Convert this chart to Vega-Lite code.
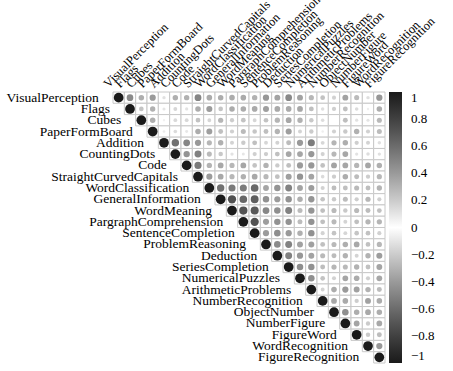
{
  "$schema": "https://vega.github.io/schema/vega-lite/v6.json",
  "width": 272,
  "height": 271,
  "autosize": {"type": "none"},
  "padding": {"left": 113, "top": 92, "right": 68, "bottom": 8},
  "background": "white",
  "config": {"view": {"stroke": null}, "font": "Times New Roman, Liberation Serif, serif"},
  "data": {"values": [
{"row":"VisualPerception","col":"VisualPerception","r":1},
{"row":"VisualPerception","col":"Flags","r":0.468},
{"row":"VisualPerception","col":"Cubes","r":0.318},
{"row":"VisualPerception","col":"PaperFormBoard","r":0.403},
{"row":"VisualPerception","col":"Addition","r":0.116},
{"row":"VisualPerception","col":"CountingDots","r":0.314},
{"row":"VisualPerception","col":"Code","r":0.308},
{"row":"VisualPerception","col":"StraightCurvedCapitals","r":0.489},
{"row":"VisualPerception","col":"WordClassification","r":0.332},
{"row":"VisualPerception","col":"GeneralInformation","r":0.321},
{"row":"VisualPerception","col":"WordMeaning","r":0.326},
{"row":"VisualPerception","col":"PargraphComprehension","r":0.335},
{"row":"VisualPerception","col":"SentenceCompletion","r":0.304},
{"row":"VisualPerception","col":"ProblemReasoning","r":0.413},
{"row":"VisualPerception","col":"Deduction","r":0.365},
{"row":"VisualPerception","col":"SeriesCompletion","r":0.474},
{"row":"VisualPerception","col":"NumericalPuzzles","r":0.369},
{"row":"VisualPerception","col":"ArithmeticProblems","r":0.282},
{"row":"VisualPerception","col":"NumberRecognition","r":0.238},
{"row":"VisualPerception","col":"ObjectNumber","r":0.176},
{"row":"VisualPerception","col":"NumberFigure","r":0.368},
{"row":"VisualPerception","col":"FigureWord","r":0.270},
{"row":"VisualPerception","col":"WordRecognition","r":0.125},
{"row":"VisualPerception","col":"FigureRecognition","r":0.414},
{"row":"Flags","col":"Flags","r":1},
{"row":"Flags","col":"Cubes","r":0.230},
{"row":"Flags","col":"PaperFormBoard","r":0.305},
{"row":"Flags","col":"Addition","r":0.099},
{"row":"Flags","col":"CountingDots","r":0.160},
{"row":"Flags","col":"Code","r":0.110},
{"row":"Flags","col":"StraightCurvedCapitals","r":0.327},
{"row":"Flags","col":"WordClassification","r":0.391},
{"row":"Flags","col":"GeneralInformation","r":0.227},
{"row":"Flags","col":"WordMeaning","r":0.325},
{"row":"Flags","col":"PargraphComprehension","r":0.327},
{"row":"Flags","col":"SentenceCompletion","r":0.335},
{"row":"Flags","col":"ProblemReasoning","r":0.380},
{"row":"Flags","col":"Deduction","r":0.339},
{"row":"Flags","col":"SeriesCompletion","r":0.335},
{"row":"Flags","col":"NumericalPuzzles","r":0.349},
{"row":"Flags","col":"ArithmeticProblems","r":0.248},
{"row":"Flags","col":"NumberRecognition","r":0.127},
{"row":"Flags","col":"ObjectNumber","r":0.187},
{"row":"Flags","col":"NumberFigure","r":0.251},
{"row":"Flags","col":"FigureWord","r":0.137},
{"row":"Flags","col":"WordRecognition","r":0.066},
{"row":"Flags","col":"FigureRecognition","r":0.322},
{"row":"Cubes","col":"Cubes","r":1},
{"row":"Cubes","col":"PaperFormBoard","r":0.317},
{"row":"Cubes","col":"Addition","r":0.057},
{"row":"Cubes","col":"CountingDots","r":0.145},
{"row":"Cubes","col":"Code","r":0.150},
{"row":"Cubes","col":"StraightCurvedCapitals","r":0.239},
{"row":"Cubes","col":"WordClassification","r":0.157},
{"row":"Cubes","col":"GeneralInformation","r":0.285},
{"row":"Cubes","col":"WordMeaning","r":0.195},
{"row":"Cubes","col":"PargraphComprehension","r":0.234},
{"row":"Cubes","col":"SentenceCompletion","r":0.157},
{"row":"Cubes","col":"ProblemReasoning","r":0.232},
{"row":"Cubes","col":"Deduction","r":0.292},
{"row":"Cubes","col":"SeriesCompletion","r":0.348},
{"row":"Cubes","col":"NumericalPuzzles","r":0.306},
{"row":"Cubes","col":"ArithmeticProblems","r":0.211},
{"row":"Cubes","col":"NumberRecognition","r":0.131},
{"row":"Cubes","col":"ObjectNumber","r":0.005},
{"row":"Cubes","col":"NumberFigure","r":0.255},
{"row":"Cubes","col":"FigureWord","r":0.112},
{"row":"Cubes","col":"WordRecognition","r":0.103},
{"row":"Cubes","col":"FigureRecognition","r":0.272},
{"row":"PaperFormBoard","col":"PaperFormBoard","r":1},
{"row":"PaperFormBoard","col":"Addition","r":-0.075},
{"row":"PaperFormBoard","col":"CountingDots","r":0.140},
{"row":"PaperFormBoard","col":"Code","r":0.091},
{"row":"PaperFormBoard","col":"StraightCurvedCapitals","r":0.321},
{"row":"PaperFormBoard","col":"WordClassification","r":0.382},
{"row":"PaperFormBoard","col":"GeneralInformation","r":0.247},
{"row":"PaperFormBoard","col":"WordMeaning","r":0.184},
{"row":"PaperFormBoard","col":"PargraphComprehension","r":0.268},
{"row":"PaperFormBoard","col":"SentenceCompletion","r":0.223},
{"row":"PaperFormBoard","col":"ProblemReasoning","r":0.250},
{"row":"PaperFormBoard","col":"Deduction","r":0.297},
{"row":"PaperFormBoard","col":"SeriesCompletion","r":0.383},
{"row":"PaperFormBoard","col":"NumericalPuzzles","r":0.165},
{"row":"PaperFormBoard","col":"ArithmeticProblems","r":0.203},
{"row":"PaperFormBoard","col":"NumberRecognition","r":0.065},
{"row":"PaperFormBoard","col":"ObjectNumber","r":0.177},
{"row":"PaperFormBoard","col":"NumberFigure","r":0.211},
{"row":"PaperFormBoard","col":"FigureWord","r":0.312},
{"row":"PaperFormBoard","col":"WordRecognition","r":0.177},
{"row":"PaperFormBoard","col":"FigureRecognition","r":0.263},
{"row":"Addition","col":"Addition","r":1},
{"row":"Addition","col":"CountingDots","r":0.585},
{"row":"Addition","col":"Code","r":0.484},
{"row":"Addition","col":"StraightCurvedCapitals","r":0.408},
{"row":"Addition","col":"WordClassification","r":0.285},
{"row":"Addition","col":"GeneralInformation","r":0.311},
{"row":"Addition","col":"WordMeaning","r":0.170},
{"row":"Addition","col":"PargraphComprehension","r":0.203},
{"row":"Addition","col":"SentenceCompletion","r":0.246},
{"row":"Addition","col":"ProblemReasoning","r":0.160},
{"row":"Addition","col":"Deduction","r":0.173},
{"row":"Addition","col":"SeriesCompletion","r":0.262},
{"row":"Addition","col":"NumericalPuzzles","r":0.405},
{"row":"Addition","col":"ArithmeticProblems","r":0.531},
{"row":"Addition","col":"NumberRecognition","r":0.154},
{"row":"Addition","col":"ObjectNumber","r":0.289},
{"row":"Addition","col":"NumberFigure","r":0.317},
{"row":"Addition","col":"FigureWord","r":0.190},
{"row":"Addition","col":"WordRecognition","r":0.172},
{"row":"Addition","col":"FigureRecognition","r":0.124},
{"row":"CountingDots","col":"CountingDots","r":1},
{"row":"CountingDots","col":"Code","r":0.428},
{"row":"CountingDots","col":"StraightCurvedCapitals","r":0.512},
{"row":"CountingDots","col":"WordClassification","r":0.271},
{"row":"CountingDots","col":"GeneralInformation","r":0.215},
{"row":"CountingDots","col":"WordMeaning","r":0.113},
{"row":"CountingDots","col":"PargraphComprehension","r":0.095},
{"row":"CountingDots","col":"SentenceCompletion","r":0.181},
{"row":"CountingDots","col":"ProblemReasoning","r":0.193},
{"row":"CountingDots","col":"Deduction","r":0.246},
{"row":"CountingDots","col":"SeriesCompletion","r":0.350},
{"row":"CountingDots","col":"NumericalPuzzles","r":0.355},
{"row":"CountingDots","col":"ArithmeticProblems","r":0.414},
{"row":"CountingDots","col":"NumberRecognition","r":0.173},
{"row":"CountingDots","col":"ObjectNumber","r":0.278},
{"row":"CountingDots","col":"NumberFigure","r":0.349},
{"row":"CountingDots","col":"FigureWord","r":0.110},
{"row":"CountingDots","col":"WordRecognition","r":0.131},
{"row":"CountingDots","col":"FigureRecognition","r":0.119},
{"row":"Code","col":"Code","r":1},
{"row":"Code","col":"StraightCurvedCapitals","r":0.535},
{"row":"Code","col":"WordClassification","r":0.300},
{"row":"Code","col":"GeneralInformation","r":0.344},
{"row":"Code","col":"WordMeaning","r":0.280},
{"row":"Code","col":"PargraphComprehension","r":0.353},
{"row":"Code","col":"SentenceCompletion","r":0.232},
{"row":"Code","col":"ProblemReasoning","r":0.304},
{"row":"Code","col":"Deduction","r":0.202},
{"row":"Code","col":"SeriesCompletion","r":0.251},
{"row":"Code","col":"NumericalPuzzles","r":0.399},
{"row":"Code","col":"ArithmeticProblems","r":0.412},
{"row":"Code","col":"NumberRecognition","r":0.240},
{"row":"Code","col":"ObjectNumber","r":0.362},
{"row":"Code","col":"NumberFigure","r":0.350},
{"row":"Code","col":"FigureWord","r":0.290},
{"row":"Code","col":"WordRecognition","r":0.350},
{"row":"Code","col":"FigureRecognition","r":0.314},
{"row":"StraightCurvedCapitals","col":"StraightCurvedCapitals","r":1},
{"row":"StraightCurvedCapitals","col":"WordClassification","r":0.395},
{"row":"StraightCurvedCapitals","col":"GeneralInformation","r":0.344},
{"row":"StraightCurvedCapitals","col":"WordMeaning","r":0.280},
{"row":"StraightCurvedCapitals","col":"PargraphComprehension","r":0.309},
{"row":"StraightCurvedCapitals","col":"SentenceCompletion","r":0.345},
{"row":"StraightCurvedCapitals","col":"ProblemReasoning","r":0.279},
{"row":"StraightCurvedCapitals","col":"Deduction","r":0.241},
{"row":"StraightCurvedCapitals","col":"SeriesCompletion","r":0.382},
{"row":"StraightCurvedCapitals","col":"NumericalPuzzles","r":0.425},
{"row":"StraightCurvedCapitals","col":"ArithmeticProblems","r":0.358},
{"row":"StraightCurvedCapitals","col":"NumberRecognition","r":0.139},
{"row":"StraightCurvedCapitals","col":"ObjectNumber","r":0.194},
{"row":"StraightCurvedCapitals","col":"NumberFigure","r":0.323},
{"row":"StraightCurvedCapitals","col":"FigureWord","r":0.263},
{"row":"StraightCurvedCapitals","col":"WordRecognition","r":0.195},
{"row":"StraightCurvedCapitals","col":"FigureRecognition","r":0.281},
{"row":"WordClassification","col":"WordClassification","r":1},
{"row":"WordClassification","col":"GeneralInformation","r":0.578},
{"row":"WordClassification","col":"WordMeaning","r":0.532},
{"row":"WordClassification","col":"PargraphComprehension","r":0.527},
{"row":"WordClassification","col":"SentenceCompletion","r":0.619},
{"row":"WordClassification","col":"ProblemReasoning","r":0.357},
{"row":"WordClassification","col":"Deduction","r":0.427},
{"row":"WordClassification","col":"SeriesCompletion","r":0.501},
{"row":"WordClassification","col":"NumericalPuzzles","r":0.362},
{"row":"WordClassification","col":"ArithmeticProblems","r":0.388},
{"row":"WordClassification","col":"NumberRecognition","r":0.175},
{"row":"WordClassification","col":"ObjectNumber","r":0.255},
{"row":"WordClassification","col":"NumberFigure","r":0.250},
{"row":"WordClassification","col":"FigureWord","r":0.274},
{"row":"WordClassification","col":"WordRecognition","r":0.252},
{"row":"WordClassification","col":"FigureRecognition","r":0.296},
{"row":"GeneralInformation","col":"GeneralInformation","r":1},
{"row":"GeneralInformation","col":"WordMeaning","r":0.723},
{"row":"GeneralInformation","col":"PargraphComprehension","r":0.622},
{"row":"GeneralInformation","col":"SentenceCompletion","r":0.656},
{"row":"GeneralInformation","col":"ProblemReasoning","r":0.441},
{"row":"GeneralInformation","col":"Deduction","r":0.398},
{"row":"GeneralInformation","col":"SeriesCompletion","r":0.435},
{"row":"GeneralInformation","col":"NumericalPuzzles","r":0.318},
{"row":"GeneralInformation","col":"ArithmeticProblems","r":0.420},
{"row":"GeneralInformation","col":"NumberRecognition","r":0.229},
{"row":"GeneralInformation","col":"ObjectNumber","r":0.208},
{"row":"GeneralInformation","col":"NumberFigure","r":0.263},
{"row":"GeneralInformation","col":"FigureWord","r":0.190},
{"row":"GeneralInformation","col":"WordRecognition","r":0.280},
{"row":"GeneralInformation","col":"FigureRecognition","r":0.187},
{"row":"WordMeaning","col":"WordMeaning","r":1},
{"row":"WordMeaning","col":"PargraphComprehension","r":0.714},
{"row":"WordMeaning","col":"SentenceCompletion","r":0.685},
{"row":"WordMeaning","col":"ProblemReasoning","r":0.483},
{"row":"WordMeaning","col":"Deduction","r":0.446},
{"row":"WordMeaning","col":"SeriesCompletion","r":0.504},
{"row":"WordMeaning","col":"NumericalPuzzles","r":0.266},
{"row":"WordMeaning","col":"ArithmeticProblems","r":0.424},
{"row":"WordMeaning","col":"NumberRecognition","r":0.248},
{"row":"WordMeaning","col":"ObjectNumber","r":0.274},
{"row":"WordMeaning","col":"NumberFigure","r":0.208},
{"row":"WordMeaning","col":"FigureWord","r":0.274},
{"row":"WordMeaning","col":"WordRecognition","r":0.260},
{"row":"WordMeaning","col":"FigureRecognition","r":0.242},
{"row":"PargraphComprehension","col":"PargraphComprehension","r":1},
{"row":"PargraphComprehension","col":"SentenceCompletion","r":0.722},
{"row":"PargraphComprehension","col":"ProblemReasoning","r":0.386},
{"row":"PargraphComprehension","col":"Deduction","r":0.435},
{"row":"PargraphComprehension","col":"SeriesCompletion","r":0.431},
{"row":"PargraphComprehension","col":"NumericalPuzzles","r":0.263},
{"row":"PargraphComprehension","col":"ArithmeticProblems","r":0.433},
{"row":"PargraphComprehension","col":"NumberRecognition","r":0.251},
{"row":"PargraphComprehension","col":"ObjectNumber","r":0.273},
{"row":"PargraphComprehension","col":"NumberFigure","r":0.167},
{"row":"PargraphComprehension","col":"FigureWord","r":0.251},
{"row":"PargraphComprehension","col":"WordRecognition","r":0.292},
{"row":"PargraphComprehension","col":"FigureRecognition","r":0.291},
{"row":"SentenceCompletion","col":"SentenceCompletion","r":1},
{"row":"SentenceCompletion","col":"ProblemReasoning","r":0.396},
{"row":"SentenceCompletion","col":"Deduction","r":0.451},
{"row":"SentenceCompletion","col":"SeriesCompletion","r":0.405},
{"row":"SentenceCompletion","col":"NumericalPuzzles","r":0.314},
{"row":"SentenceCompletion","col":"ArithmeticProblems","r":0.437},
{"row":"SentenceCompletion","col":"NumberRecognition","r":0.172},
{"row":"SentenceCompletion","col":"ObjectNumber","r":0.228},
{"row":"SentenceCompletion","col":"NumberFigure","r":0.159},
{"row":"SentenceCompletion","col":"FigureWord","r":0.226},
{"row":"SentenceCompletion","col":"WordRecognition","r":0.236},
{"row":"SentenceCompletion","col":"FigureRecognition","r":0.180},
{"row":"ProblemReasoning","col":"ProblemReasoning","r":1},
{"row":"ProblemReasoning","col":"Deduction","r":0.463},
{"row":"ProblemReasoning","col":"SeriesCompletion","r":0.503},
{"row":"ProblemReasoning","col":"NumericalPuzzles","r":0.374},
{"row":"ProblemReasoning","col":"ArithmeticProblems","r":0.375},
{"row":"ProblemReasoning","col":"NumberRecognition","r":0.246},
{"row":"ProblemReasoning","col":"ObjectNumber","r":0.273},
{"row":"ProblemReasoning","col":"NumberFigure","r":0.317},
{"row":"ProblemReasoning","col":"FigureWord","r":0.342},
{"row":"ProblemReasoning","col":"WordRecognition","r":0.243},
{"row":"ProblemReasoning","col":"FigureRecognition","r":0.283},
{"row":"Deduction","col":"Deduction","r":1},
{"row":"Deduction","col":"SeriesCompletion","r":0.509},
{"row":"Deduction","col":"NumericalPuzzles","r":0.413},
{"row":"Deduction","col":"ArithmeticProblems","r":0.366},
{"row":"Deduction","col":"NumberRecognition","r":0.272},
{"row":"Deduction","col":"ObjectNumber","r":0.262},
{"row":"Deduction","col":"NumberFigure","r":0.301},
{"row":"Deduction","col":"FigureWord","r":0.167},
{"row":"Deduction","col":"WordRecognition","r":0.302},
{"row":"Deduction","col":"FigureRecognition","r":0.388},
{"row":"SeriesCompletion","col":"SeriesCompletion","r":1},
{"row":"SeriesCompletion","col":"NumericalPuzzles","r":0.451},
{"row":"SeriesCompletion","col":"ArithmeticProblems","r":0.434},
{"row":"SeriesCompletion","col":"NumberRecognition","r":0.256},
{"row":"SeriesCompletion","col":"ObjectNumber","r":0.287},
{"row":"SeriesCompletion","col":"NumberFigure","r":0.272},
{"row":"SeriesCompletion","col":"FigureWord","r":0.303},
{"row":"SeriesCompletion","col":"WordRecognition","r":0.242},
{"row":"SeriesCompletion","col":"FigureRecognition","r":0.360},
{"row":"NumericalPuzzles","col":"NumericalPuzzles","r":1},
{"row":"NumericalPuzzles","col":"ArithmeticProblems","r":0.448},
{"row":"NumericalPuzzles","col":"NumberRecognition","r":0.232},
{"row":"NumericalPuzzles","col":"ObjectNumber","r":0.173},
{"row":"NumericalPuzzles","col":"NumberFigure","r":0.357},
{"row":"NumericalPuzzles","col":"FigureWord","r":0.331},
{"row":"NumericalPuzzles","col":"WordRecognition","r":0.183},
{"row":"NumericalPuzzles","col":"FigureRecognition","r":0.348},
{"row":"ArithmeticProblems","col":"ArithmeticProblems","r":1},
{"row":"ArithmeticProblems","col":"NumberRecognition","r":0.165},
{"row":"ArithmeticProblems","col":"ObjectNumber","r":0.326},
{"row":"ArithmeticProblems","col":"NumberFigure","r":0.405},
{"row":"ArithmeticProblems","col":"FigureWord","r":0.374},
{"row":"ArithmeticProblems","col":"WordRecognition","r":0.304},
{"row":"ArithmeticProblems","col":"FigureRecognition","r":0.262},
{"row":"NumberRecognition","col":"NumberRecognition","r":1},
{"row":"NumberRecognition","col":"ObjectNumber","r":0.345},
{"row":"NumberRecognition","col":"NumberFigure","r":0.334},
{"row":"NumberRecognition","col":"FigureWord","r":0.192},
{"row":"NumberRecognition","col":"WordRecognition","r":0.370},
{"row":"NumberRecognition","col":"FigureRecognition","r":0.325},
{"row":"ObjectNumber","col":"ObjectNumber","r":1},
{"row":"ObjectNumber","col":"NumberFigure","r":0.448},
{"row":"ObjectNumber","col":"FigureWord","r":0.324},
{"row":"ObjectNumber","col":"WordRecognition","r":0.341},
{"row":"ObjectNumber","col":"FigureRecognition","r":0.324},
{"row":"NumberFigure","col":"NumberFigure","r":1},
{"row":"NumberFigure","col":"FigureWord","r":0.358},
{"row":"NumberFigure","col":"WordRecognition","r":0.201},
{"row":"NumberFigure","col":"FigureRecognition","r":0.344},
{"row":"FigureWord","col":"FigureWord","r":1},
{"row":"FigureWord","col":"WordRecognition","r":0.206},
{"row":"FigureWord","col":"FigureRecognition","r":0.258},
{"row":"WordRecognition","col":"WordRecognition","r":1},
{"row":"WordRecognition","col":"FigureRecognition","r":0.412},
{"row":"FigureRecognition","col":"FigureRecognition","r":1}
  ]},
  "transform": [{"calculate": "abs(datum.r)", "as": "absr"}],
  "encoding": {
    "x": {"field": "col", "type": "nominal", "sort": null,
      "scale": {"type": "band", "paddingInner": 0, "paddingOuter": 0,
        "domain": ["VisualPerception","Flags","Cubes","PaperFormBoard","Addition","CountingDots","Code","StraightCurvedCapitals","WordClassification","GeneralInformation","WordMeaning","PargraphComprehension","SentenceCompletion","ProblemReasoning","Deduction","SeriesCompletion","NumericalPuzzles","ArithmeticProblems","NumberRecognition","ObjectNumber","NumberFigure","FigureWord","WordRecognition","FigureRecognition"]},
      "axis": {"orient": "top", "title": null, "domain": false, "ticks": false, "grid": false,
        "labelAngle": -45, "labelAlign": "left", "labelBaseline": "bottom", "labelPadding": 2, "labelOffset": -8,
        "labelFont": "Times New Roman, Liberation Serif, serif", "labelFontSize": 12.5, "labelColor": "black", "labelOverlap": false, "labelBound": false, "labelFlush": false}},
    "y": {"field": "row", "type": "nominal", "sort": null,
      "scale": {"type": "band", "paddingInner": 0, "paddingOuter": 0,
        "domain": ["VisualPerception","Flags","Cubes","PaperFormBoard","Addition","CountingDots","Code","StraightCurvedCapitals","WordClassification","GeneralInformation","WordMeaning","PargraphComprehension","SentenceCompletion","ProblemReasoning","Deduction","SeriesCompletion","NumericalPuzzles","ArithmeticProblems","NumberRecognition","ObjectNumber","NumberFigure","FigureWord","WordRecognition","FigureRecognition"]},
      "axis": null}
  },
  "layer": [
    {"mark": {"type": "rect", "fill": "white", "stroke": "#c8c8c8", "strokeWidth": 1}},
    {"mark": {"type": "circle", "opacity": 1},
      "encoding": {
        "size": {"field": "absr", "type": "quantitative", "scale": {"domain": [0, 1], "range": [0, 95]}, "legend": null},
        "color": {"field": "r", "type": "quantitative",
          "scale": {"domain": [-1, 0, 1], "range": ["#1a1a1a", "#ffffff", "#1a1a1a"]},
          "legend": {"orient": "none", "legendX": 276, "legendY": 0, "direction": "vertical", "title": null,
            "gradientLength": 271, "gradientThickness": 13, "gradientStrokeWidth": 0,
            "values": [-1, -0.8, -0.6, -0.4, -0.2, 0, 0.2, 0.4, 0.6, 0.8, 1],
            "format": ".1~f", "labelFont": "Times New Roman, Liberation Serif, serif", "labelFontSize": 13, "labelColor": "black",
            "labelOffset": 9, "labelOverlap": false, "labelBaseline": "middle"}}
      }},
    {"transform": [{"filter": "datum.row === datum.col"}],
      "mark": {"type": "text", "align": "right", "baseline": "middle", "dx": -20, "font": "Times New Roman, Liberation Serif, serif", "fontSize": 13.5, "color": "black"},
      "encoding": {"text": {"field": "row"}}}
  ]
}
